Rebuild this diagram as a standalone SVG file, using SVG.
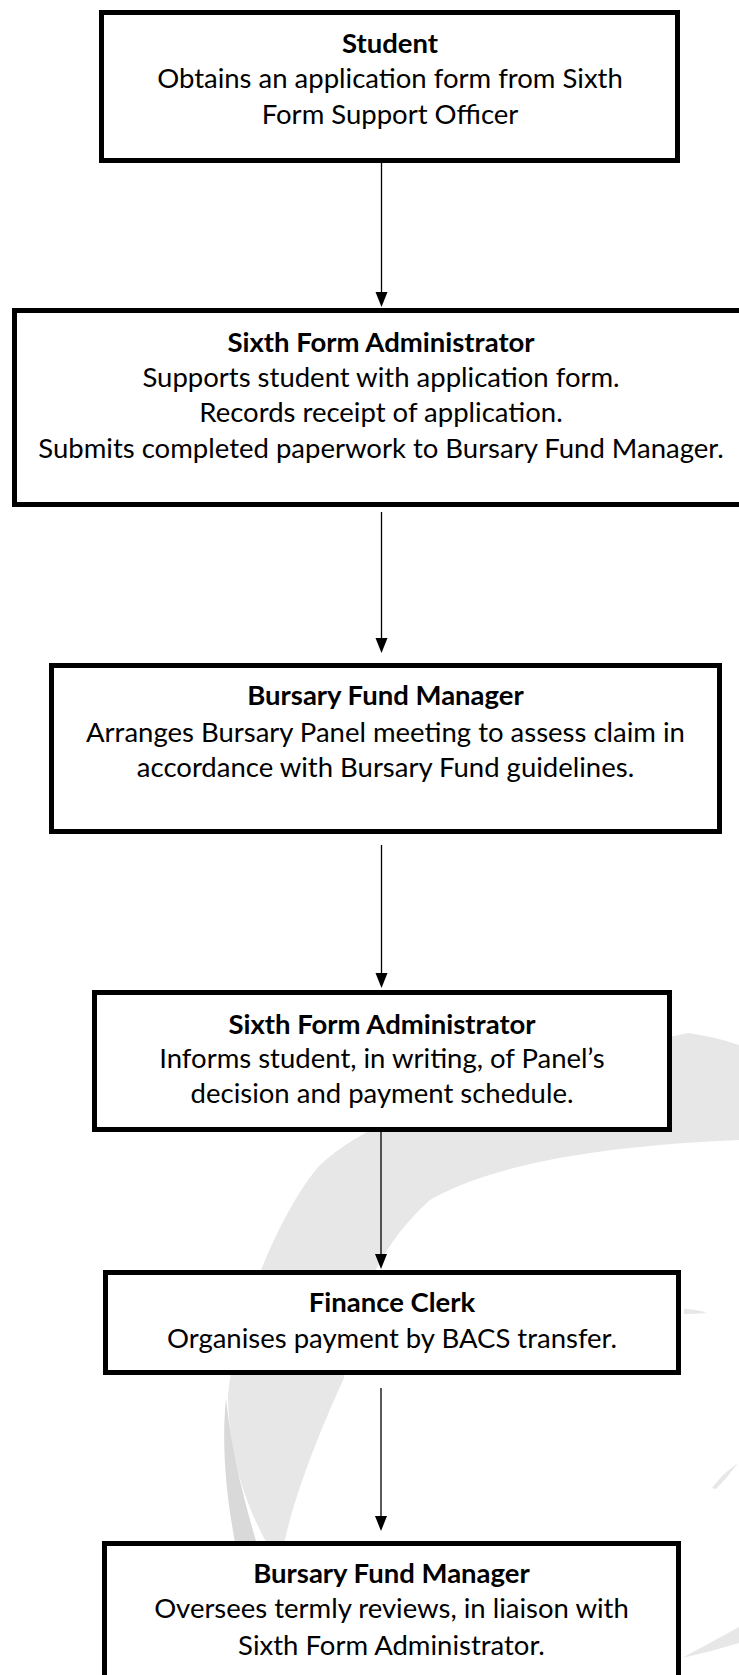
<svg xmlns="http://www.w3.org/2000/svg" width="739" height="1675" viewBox="0 0 739 1675">
<defs>
<style>
.box{fill:#fff;stroke:#000;stroke-width:5}
.t{font-family:Lato,"Open Sans","Liberation Sans",sans-serif;font-size:27.5px;fill:#000;text-anchor:middle}
.b{font-weight:bold}
.edge{stroke:#000;stroke-width:1.3;fill:none}
.head{fill:#000}
.wm{fill:#e7e7e7}
.wm2{fill:#d9d9d9}
</style>
</defs>
<rect width="739" height="1675" fill="#fff"/>
<g id="watermark">
<path class="wm" d="M688,1033 C560,1060 390,1100 320,1165 C280,1210 235,1320 228,1395 C228,1460 250,1520 280,1565 C290,1500 325,1420 344,1378 C352,1300 385,1240 430,1200 C500,1160 620,1145 739,1140 L739,1045 Q712,1036 688,1033 Z"/>
<path class="wm2" d="M226,1398 C221,1450 227,1500 236,1548 L258,1548 C244,1500 231,1450 226,1398 Z"/>
<path class="wm" d="M684,1309 Q696,1309 707,1313 Q696,1314 684,1314 Z"/>
<path class="wm" d="M712,1488 Q722,1474 738,1463 Q728,1477 716,1489 Z"/>
<path class="wm" d="M682,1658 Q708,1644 739,1627 L739,1643 Q710,1652 682,1658 Z"/>
</g>
<g id="connectors">
<line class="edge" x1="381.5" y1="163" x2="381.5" y2="294"/>
<polygon class="head" points="375.5,292 387.5,292 381.5,307"/>
<line class="edge" x1="381.5" y1="512" x2="381.5" y2="640"/>
<polygon class="head" points="375.5,638 387.5,638 381.5,653"/>
<line class="edge" x1="381.5" y1="845" x2="381.5" y2="975"/>
<polygon class="head" points="375.5,973 387.5,973 381.5,988"/>
<line class="edge" x1="381" y1="1132" x2="381" y2="1256"/>
<polygon class="head" points="375,1254 387,1254 381,1269"/>
<line class="edge" x1="381" y1="1388" x2="381" y2="1518"/>
<polygon class="head" points="375,1516 387,1516 381,1531"/>
</g>
<g id="n1">
<rect class="box" x="101.5" y="12.5" width="576" height="148"/>
<text class="t b" x="390" y="53">Student</text>
<text class="t" x="390" y="88">Obtains an application form from Sixth</text>
<text class="t" x="390" y="124">Form Support Officer</text>
</g>
<g id="n2">
<rect class="box" x="14.5" y="310.5" width="740" height="194"/>
<text class="t b" x="381" y="352">Sixth Form Administrator</text>
<text class="t" x="381" y="387">Supports student with application form.</text>
<text class="t" x="381" y="422">Records receipt of application.</text>
<text class="t" x="381" y="458">Submits completed paperwork to Bursary Fund Manager.</text>
</g>
<g id="n3">
<rect class="box" x="51.5" y="665.5" width="668" height="166"/>
<text class="t b" x="385.5" y="705">Bursary Fund Manager</text>
<text class="t" x="385.5" y="742">Arranges Bursary Panel meeting to assess claim in</text>
<text class="t" x="385.5" y="777">accordance with Bursary Fund guidelines.</text>
</g>
<g id="n4">
<rect class="box" x="94.5" y="992.5" width="575" height="137"/>
<text class="t b" x="382" y="1034">Sixth Form Administrator</text>
<text class="t" x="382" y="1068">Informs student, in writing, of Panel’s</text>
<text class="t" x="382" y="1103">decision and payment schedule.</text>
</g>
<g id="n5">
<rect class="box" x="105.5" y="1272.5" width="573" height="100"/>
<text class="t b" x="392" y="1312">Finance Clerk</text>
<text class="t" x="392" y="1348">Organises payment by BACS transfer.</text>
</g>
<g id="n6">
<rect class="box" x="104.5" y="1543.5" width="574" height="200"/>
<text class="t b" x="391.5" y="1583">Bursary Fund Manager</text>
<text class="t" x="391.5" y="1618">Oversees termly reviews, in liaison with</text>
<text class="t" x="391.5" y="1655">Sixth Form Administrator.</text>
</g>
</svg>
